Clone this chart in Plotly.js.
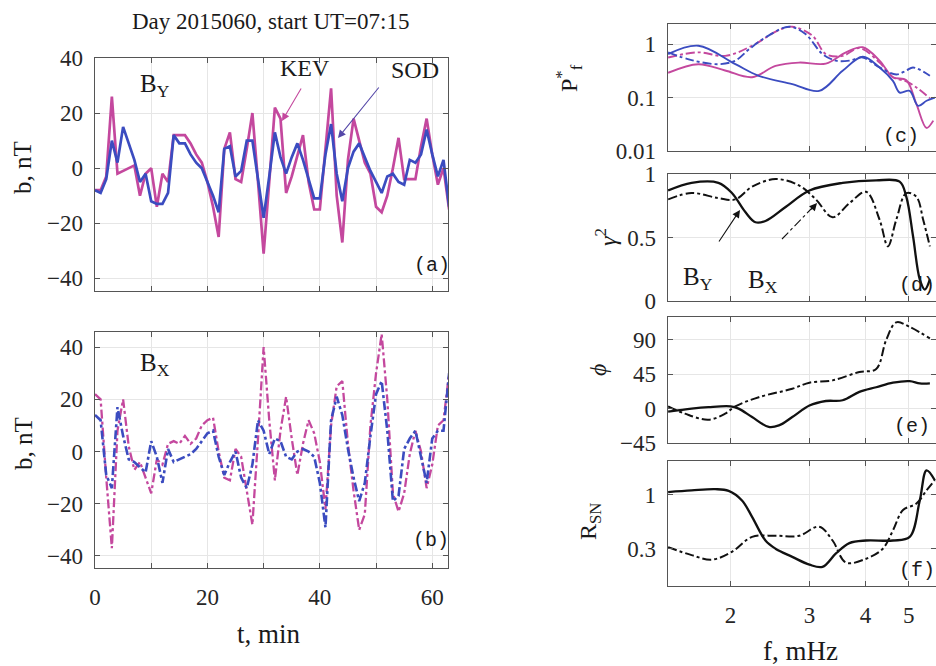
<!DOCTYPE html>
<html><head><meta charset="utf-8">
<script src="https://cdn.plot.ly/plotly-3.0.1.min.js"></script>
<style>html,body{margin:0;padding:0;background:#fff}#plot{width:936px;height:666px}</style>
</head><body><div id="plot"></div>
<script>
// ---------- time series (minutes) ----------
const tMin = [0,1,2,3,4,5,6,7,8,9,10,11,12,13,14,15,16,17,18,19,20,21,22,23,24,25,26,27,28,29,30,31,32,33,34,35,36,37,38,39,40,41,42,43,44,45,46,47,48,49,50,51,52,53,54,55,56,57,58,59,60,61,62,63];
const byKEV = [-8,-8,-3,26,-2,-1,0,1,-10,-2,0,-14,-2,-5,12,12,12,9,5,2,-5,-14,-25,7,13,-4,-5,7,20,-5,-31,-5,22,18,-9,-3,5,12,-5,-15,-15,8,29,-10,-27,3,18,10,2,-2,-14,-16,-10,0,11,-4,-4,-4,8,18,5,-6,0,-15];
const bySOD = [-8,-9,-4,10,2,15,9,3,-5,-2,-12,-13,-13,-9,12,9,9,5,2,0,-5,-10,-16,7,8,-3,-1,10,10,-4,-18,-3,13,4,-2,4,9,3,-4,-11,-11,5,16,-2,-12,0,6,9,4,-1,-5,-9,-3,-2,-5,-6,3,2,5,14,5,-3,3,-14];
const bxKEV = [22,20,-10,-37,8,20,2,-7,-4,-10,-16,-3,-5,3,4,3,6,3,5,10,12,13,0,-10,-11,1,-2,-15,-28,5,40,12,-11,8,21,5,-9,3,12,7,-4,-22,10,25,27,3,-15,-30,-24,10,30,45,20,-16,-23,-16,-1,8,0,-14,-5,10,12,30];
const bxSOD = [14,12,-9,-14,17,6,-3,-4,-6,-8,4,-2,-12,1,-4,-3,-2,-1,1,4,7,8,-2,-9,-4,0,-10,-14,-5,12,8,-1,5,4,-2,-3,0,1,0,-2,-12,-29,12,21,14,1,-10,-19,-12,6,22,27,8,-19,-17,1,5,8,-2,-12,5,8,8,30];
const tTicks = [0,10,20,30,40,50,60];
const tTickText = ['0','','20','','40','','60'];
const bTicks = [-40,-20,0,20,40];

// ---------- spectra (mHz) ----------
const fPsodY = [1.451,1.695,2.05,2.312,2.747,3.154,3.558,3.946,4.302,4.608,4.77,5.023,5.245,5.477,5.715];
const PsodY  = [0.65,0.93,0.42,0.255,0.178,0.133,0.316,0.58,0.365,0.205,0.124,0.133,0.07,0.087,0.1];
const fPsodX = [1.451,1.637,1.879,2.05,2.2,2.393,2.70,2.94,3.208,3.438,3.684,3.946,4.302,4.688,4.937,5.11,5.572];
const PsodX  = [0.70,0.50,0.42,0.49,0.8,1.33,2.11,1.54,0.65,0.49,0.49,0.56,0.365,0.27,0.32,0.365,0.255];
const fPkevY = [1.451,1.695,1.945,2.234,2.52,2.843,3.264,3.62,3.946,4.302,4.608,4.937,5.2,5.477,5.67];
const PkevY  = [0.29,0.42,0.32,0.24,0.39,0.45,0.43,0.70,0.87,0.49,0.24,0.21,0.075,0.027,0.037];
const fPkevX = [1.451,1.695,1.945,2.234,2.564,2.747,3.047,3.264,3.558,3.878,4.302,4.608,4.937,5.2,5.572];
const PkevX  = [0.56,0.70,0.60,0.93,1.83,2.11,1.43,0.65,0.60,0.84,0.45,0.24,0.20,0.154,0.097];

const fCohY = [1.451,1.637,1.879,2.014,2.158,2.273,2.393,2.654,3.0,3.558,4.228,4.77,4.937,5.11,5.29,5.429,5.572];
const cohY  = [0.87,0.93,0.93,0.85,0.70,0.62,0.63,0.74,0.87,0.93,0.95,0.94,0.82,0.51,0.17,0.09,0.17];
const fCohX = [1.451,1.637,1.879,2.05,2.234,2.52,2.843,3.1,3.379,3.684,4.015,4.302,4.491,4.688,4.937,5.2,5.383,5.572];
const cohX  = [0.80,0.85,0.81,0.80,0.90,0.96,0.91,0.80,0.66,0.77,0.86,0.64,0.43,0.64,0.85,0.82,0.64,0.43];

const fPhY = [1.451,1.637,1.785,2.0,2.084,2.234,2.434,2.564,2.747,3.0,3.264,3.558,3.878,4.228,4.608,5.023,5.29,5.572];
const phY  = [-4,0,2,3,0,-11,-24,-22,-11,4,10,11,22,28,34,36,33,33];
const fPhX = [1.451,1.582,1.785,1.945,2.05,2.312,2.747,3.0,3.379,3.878,4.228,4.452,4.688,5.023,5.572];
const phX  = [3,-6.6,-14.5,-6.6,3,15,26,34,37,48,52,90,113,107,92];

const fRsnY = [1.451,1.637,1.847,1.98,2.121,2.234,2.393,2.52,2.747,3.0,3.208,3.438,3.684,4.015,4.608,5.023,5.29,5.477,5.715];
const rsnY  = [1.06,1.10,1.13,1.09,0.88,0.61,0.36,0.30,0.25,0.21,0.20,0.27,0.34,0.36,0.36,0.39,0.88,1.72,1.38];
const fRsnX = [1.451,1.637,1.816,2.014,2.234,2.52,2.843,3.154,3.379,3.62,4.015,4.375,4.608,4.853,5.2,5.477,5.715];
const rsnX  = [0.31,0.26,0.235,0.28,0.39,0.40,0.40,0.49,0.36,0.22,0.24,0.30,0.45,0.71,0.82,1.10,1.38];

const fTicks = [2,3,4,5];

// ---------- style ----------
const BLUE = '#3b4cc0', MAG = '#c4489e', BLK = '#111111';
const SERIF = 'Liberation Serif, Times New Roman, serif';
const MONO = 'Liberation Mono, Courier New, monospace';
const W = 936, H = 666;
const px = x => x / W, py = y => 1 - y / H;

const baseAxis = {
  showline: true, linecolor: '#555', linewidth: 1.3, mirror: 'ticks',
  ticks: 'inside', ticklen: 5, tickcolor: '#555', tickwidth: 1,
  showgrid: true, gridcolor: '#e6e6e6', gridwidth: 1, zeroline: false,
  tickfont: {family: SERIF, size: 23, color: '#262626'}, fixedrange: true
};
const ax = o => Object.assign({}, baseAxis, o);

const fRange = [Math.log10(1.45), Math.log10(5.75)];
const rDom = [px(668), 1];

const traces = [
  {x: tMin, y: byKEV, xaxis: 'x', yaxis: 'y', mode: 'lines', line: {color: MAG, width: 2.7}},
  {x: tMin, y: bySOD, xaxis: 'x', yaxis: 'y', mode: 'lines', line: {color: BLUE, width: 2.7}},
  {x: tMin, y: bxKEV, xaxis: 'x2', yaxis: 'y2', mode: 'lines', line: {color: MAG, width: 2.3, dash: 'dashdot'}},
  {x: tMin, y: bxSOD, xaxis: 'x2', yaxis: 'y2', mode: 'lines', line: {color: BLUE, width: 2.6, dash: 'dashdot'}},
  {x: fPkevY, y: PkevY, xaxis: 'x3', yaxis: 'y3', mode: 'lines', line: {color: MAG, width: 1.9, shape: 'spline'}},
  {x: fPkevX, y: PkevX, xaxis: 'x3', yaxis: 'y3', mode: 'lines', line: {color: MAG, width: 1.9, shape: 'spline', dash: 'dashdot'}},
  {x: fPsodY, y: PsodY, xaxis: 'x3', yaxis: 'y3', mode: 'lines', line: {color: BLUE, width: 1.9, shape: 'spline'}},
  {x: fPsodX, y: PsodX, xaxis: 'x3', yaxis: 'y3', mode: 'lines', line: {color: BLUE, width: 1.9, shape: 'spline', dash: 'dashdot'}},
  {x: fCohY, y: cohY, xaxis: 'x4', yaxis: 'y4', mode: 'lines', line: {color: BLK, width: 2.3, shape: 'spline'}},
  {x: fCohX, y: cohX, xaxis: 'x4', yaxis: 'y4', mode: 'lines', line: {color: BLK, width: 2, shape: 'spline', dash: 'dashdot'}},
  {x: fPhY, y: phY, xaxis: 'x5', yaxis: 'y5', mode: 'lines', line: {color: BLK, width: 2.3, shape: 'spline'}},
  {x: fPhX, y: phX, xaxis: 'x5', yaxis: 'y5', mode: 'lines', line: {color: BLK, width: 2, shape: 'spline', dash: 'dashdot'}},
  {x: fRsnY, y: rsnY, xaxis: 'x6', yaxis: 'y6', mode: 'lines', line: {color: BLK, width: 2.3, shape: 'spline'}},
  {x: fRsnX, y: rsnX, xaxis: 'x6', yaxis: 'y6', mode: 'lines', line: {color: BLK, width: 2, shape: 'spline', dash: 'dashdot'}}
];

const txt = (x, y, text, size, extra) => Object.assign({
  xref: 'paper', yref: 'paper', x: px(x), y: py(y), text: text, showarrow: false,
  xanchor: 'center', yanchor: 'middle', font: {family: SERIF, size: size, color: '#1a1a1a'}
}, extra || {});
const arrow = (hx, hy, tx, ty, color) => ({
  xref: 'paper', yref: 'paper', x: px(hx), y: py(hy), ax: tx - hx, ay: ty - hy, text: '',
  showarrow: true, arrowhead: 2, arrowsize: 1.4, arrowwidth: 1.1, arrowcolor: color
});
const mono = {family: MONO, size: 20, color: '#1a1a1a'};

const annotations = [
  txt(270, 21, 'Day 2015060, start UT=07:15', 23),
  txt(23, 168, 'b, nT', 25, {textangle: -90}),
  txt(23, 444, 'b, nT', 25, {textangle: -90}),
  txt(269, 634, 't, min', 27),
  txt(800, 651, 'f, mHz', 27),
  txt(155, 86, 'B<sub>Y</sub>', 25),
  txt(155, 364, 'B<sub>X</sub>', 25),
  txt(305, 68, 'KEV', 24),
  txt(415, 70, 'SOD', 24),
  arrow(282, 121, 302, 87, MAG),
  arrow(338, 138, 380, 86, '#5548a8'),
  txt(432, 265, '(a)', 20, {font: mono}),
  txt(431, 540, '(b)', 20, {font: mono}),
  txt(901, 137, '(c)', 20, {font: mono}),
  txt(897, 285, '(d)', 20, {xanchor: 'left', font: mono}),
  txt(912, 426, '(e)', 20, {font: mono}),
  txt(897, 570, '(f)', 20, {xanchor: 'left', font: mono}),
  txt(569, 78, 'P<sup>*</sup><sub>f</sub>', 24, {textangle: -90}),
  txt(606, 237, '<i>γ</i><sup>2</sup>', 24, {textangle: -90}),
  txt(598, 370, '<i>ϕ</i>', 24, {textangle: -90}),
  txt(590, 522, 'R<sub>SN</sub>', 24, {textangle: -90}),
  txt(698, 278, 'B<sub>Y</sub>', 25),
  txt(763, 281, 'B<sub>X</sub>', 25),
  arrow(740, 210, 718, 243, BLK),
  arrow(817, 203, 810, 211, BLK)
];

const shapes = [
  {type: 'line', xref: 'paper', yref: 'paper', x0: px(782), y0: py(239), x1: px(812), y1: py(208),
   line: {color: BLK, width: 1.1, dash: 'dashdot'}}
];

const layout = {
  width: W, height: H, margin: {l: 0, r: 0, t: 0, b: 0},
  paper_bgcolor: '#fff', plot_bgcolor: '#fff', showlegend: false,
  xaxis:  ax({domain: [px(95), px(448)], anchor: 'y', range: [0, 62.8], tickvals: tTicks, ticktext: tTickText, showticklabels: false}),
  yaxis:  ax({domain: [py(291), py(58)], anchor: 'x', range: [-44.6, 40], tickvals: bTicks, ticklabelstandoff: 6}),
  xaxis2: ax({domain: [px(95), px(448)], anchor: 'y2', range: [0, 62.8], tickvals: tTicks, ticktext: tTickText, ticklabelstandoff: 8}),
  yaxis2: ax({domain: [py(568), py(332)], anchor: 'x2', range: [-44.6, 45.8], tickvals: bTicks, ticklabelstandoff: 6}),
  xaxis3: ax({domain: rDom, anchor: 'y3', type: 'log', range: fRange, tickvals: fTicks, showticklabels: false}),
  yaxis3: ax({domain: [py(151), py(24)], anchor: 'x3', type: 'log', range: [-2, 0.375], tickvals: [0.01, 0.1, 1], ticktext: ['0.01', '0.1', '1'], ticklabelstandoff: 6}),
  xaxis4: ax({domain: rDom, anchor: 'y4', type: 'log', range: fRange, tickvals: fTicks, showticklabels: false}),
  yaxis4: ax({domain: [py(301), py(174)], anchor: 'x4', range: [0, 1], tickvals: [0, 0.5, 1], ticktext: ['0', '0.5', '1'], ticklabelstandoff: 6}),
  xaxis5: ax({domain: rDom, anchor: 'y5', type: 'log', range: fRange, tickvals: fTicks, showticklabels: false}),
  yaxis5: ax({domain: [py(443), py(317)], anchor: 'x5', range: [-45, 120], tickvals: [-45, 0, 45, 90], ticklabelstandoff: 6}),
  xaxis6: ax({domain: rDom, anchor: 'y6', type: 'log', range: fRange, tickvals: fTicks, ticktext: ['2', '3', '4', '5'], ticklabelstandoff: 8}),
  yaxis6: ax({domain: [py(586), py(461)], anchor: 'x6', type: 'log', range: [-0.884, 0.326], tickvals: [0.3, 1], ticktext: ['0.3', '1'], ticklabelstandoff: 6}),
  annotations: annotations,
  shapes: shapes
};

Plotly.newPlot('plot', traces, layout, {staticPlot: true, displayModeBar: false});
</script>
</body></html>
